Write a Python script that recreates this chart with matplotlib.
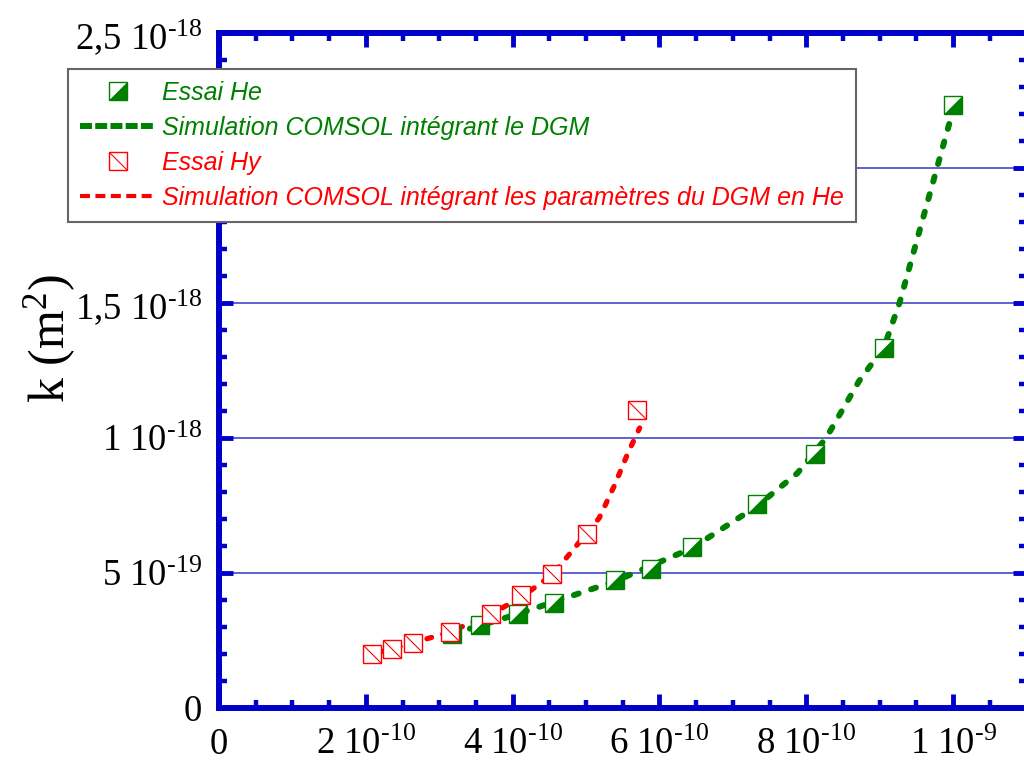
import numpy as np
import matplotlib
matplotlib.use("Agg")
import matplotlib.pyplot as plt
from matplotlib.path import Path
from matplotlib.lines import Line2D
from matplotlib.legend_handler import HandlerTuple
from matplotlib.ticker import MultipleLocator, FixedLocator, FixedFormatter

plt.rcParams['font.family'] = 'Liberation Serif'
plt.rcParams['mathtext.fontset'] = 'custom'
plt.rcParams['mathtext.rm'] = 'Liberation Serif'
plt.rcParams['mathtext.it'] = 'Liberation Serif:italic'

# --- data ---
he_x = [3.18e-10, 3.56e-10, 4.07e-10, 4.57e-10, 5.40e-10, 5.88e-10,
        6.45e-10, 7.33e-10, 8.12e-10, 9.06e-10, 1.0e-9]
he_k = [2.74e-19, 3.07e-19, 3.48e-19, 3.89e-19, 4.74e-19, 5.15e-19,
        5.96e-19, 7.56e-19, 9.41e-19, 1.333e-18, 2.233e-18]

sim_he_x = [3.18e-10, 4.07e-10, 5.40e-10, 6.45e-10, 7.33e-10, 7.88e-10,
            8.27e-10, 8.72e-10, 9.06e-10, 9.27e-10, 9.78e-10, 1.0e-9]
sim_he_k = [2.74e-19, 3.48e-19, 4.70e-19, 5.93e-19, 7.48e-19, 8.70e-19,
            1.0e-18, 1.211e-18, 1.337e-18, 1.5e-18, 2.0e-18, 2.215e-18]

hy_x = [2.08e-10, 2.35e-10, 2.64e-10, 3.14e-10, 3.71e-10, 4.12e-10,
        4.54e-10, 5.01e-10, 5.70e-10]
hy_k = [2.0e-19, 2.19e-19, 2.41e-19, 2.81e-19, 3.48e-19, 4.19e-19,
        4.96e-19, 6.44e-19, 1.104e-18]

sim_hy_x = [2.19e-10, 2.64e-10, 3.14e-10, 3.71e-10, 4.12e-10, 4.54e-10,
            4.82e-10, 5.18e-10, 5.39e-10, 5.57e-10, 5.73e-10]
sim_hy_k = [2.07e-19, 2.41e-19, 2.81e-19, 3.48e-19, 4.11e-19, 4.93e-19,
            5.85e-19, 7.04e-19, 8.26e-19, 9.44e-19, 1.037e-18]

xticks = [0, 2e-10, 4e-10, 6e-10, 8e-10, 1e-9]
xtick_labels = ['0', '2 10$^{\\text{-10}}$', '4 10$^{\\text{-10}}$',
                '6 10$^{\\text{-10}}$', '8 10$^{\\text{-10}}$', '1 10$^{\\text{-9}}$']
yticks = [0, 5e-19, 1e-18, 1.5e-18, 2e-18, 2.5e-18]
ytick_labels = ['0', '5 10$^{\\text{-19}}$', '1 10$^{\\text{-18}}$',
                '1,5 10$^{\\text{-18}}$', '2 10$^{\\text{-18}}$', '2,5 10$^{\\text{-18}}$']

labels = ['Essai He', 'Simulation COMSOL intégrant le DGM', 'Essai Hy',
          'Simulation COMSOL intégrant les paramètres du DGM en He']

green = '#008000'
red = '#ff0000'
blue = '#0000cc'

tri = Path([(-1, -1), (1, -1), (1, 1), (-1, -1)])
diag = Path([(-1, 1), (1, -1)], [Path.MOVETO, Path.LINETO])

fig = plt.figure(figsize=(10.24, 7.62), dpi=100)
ax = fig.add_axes([219 / 1024, 54 / 762, 807.5 / 1024, 675 / 762])

ax.yaxis.grid(True, which='major', color='#3535c8', lw=1.1)
ax.set_axisbelow(True)

l_she, = ax.plot(sim_he_x, sim_he_k, color=green, lw=4.3, dashes=(0.85, 2.2),
                 dash_capstyle='round', zorder=3)
l_shy, = ax.plot(sim_hy_x, sim_hy_k, color=red, lw=3.8, dashes=(0.9, 2.2),
                 dash_capstyle='round', zorder=3)

ms = 12.3
he_sq, = ax.plot(he_x, he_k, ls='none', marker='s', ms=ms, mfc='white',
                 mec=green, mew=1.0, zorder=4)
he_tri, = ax.plot(he_x, he_k, ls='none', marker=tri, ms=ms, mfc=green,
                  mec=green, mew=0.5, zorder=4)
hy_sq, = ax.plot(hy_x, hy_k, ls='none', marker='s', ms=ms, mfc='white',
                 mec=red, mew=1.0, zorder=5)
hy_d, = ax.plot(hy_x, hy_k, ls='none', marker=diag, ms=ms, mfc='none',
                mec=red, mew=0.8, zorder=5)

ax.set_xlim(0, 1.1e-9)
ax.set_ylim(0, 2.5e-18)

ax.xaxis.set_major_locator(FixedLocator(xticks))
ax.xaxis.set_major_formatter(FixedFormatter(xtick_labels))
ax.xaxis.set_minor_locator(MultipleLocator(0.5e-10))
ax.yaxis.set_major_locator(FixedLocator(yticks))
ax.yaxis.set_major_formatter(FixedFormatter(ytick_labels))
ax.yaxis.set_minor_locator(MultipleLocator(1e-19))

ax.tick_params(which='both', direction='in', top=True, right=True,
               color=blue, labelsize=26.5)
ax.tick_params(which='major', length=10, width=3.5)
ax.tick_params(which='minor', length=6, width=3.2)
ax.tick_params(axis='y', pad=12)
ax.tick_params(axis='x', pad=14)
for s in ax.spines.values():
    s.set_color(blue)
    s.set_linewidth(4.3)

ax.set_ylabel('k (m$^2$)', fontsize=36)
ax.yaxis.set_label_coords(-0.175, 0.547)

# legend proxies
leg_she = Line2D([], [], color=green, lw=4.3, dashes=(2.0, 0.55))
leg_shy = Line2D([], [], color=red, lw=3.0, dashes=(2.4, 1.3))
leg = ax.legend([(he_sq, he_tri), leg_she, (hy_sq, hy_d), leg_shy], labels,
                handler_map={tuple: HandlerTuple(ndivide=1)},
                loc='upper left', bbox_to_anchor=(68 / 1024, 1 - 69 / 762),
                bbox_transform=fig.transFigure,
                prop={'family': 'Liberation Sans', 'style': 'italic', 'size': 18},
                labelcolor=[green, green, red, red],
                frameon=True, fancybox=False, framealpha=1, edgecolor='#666666',
                borderpad=0.48, labelspacing=0.44, handlelength=3.0,
                handletextpad=0.28, borderaxespad=0)
leg.get_frame().set_linewidth(1.5)
leg.set_zorder(10)

fig.savefig('out.png', dpi=100)
